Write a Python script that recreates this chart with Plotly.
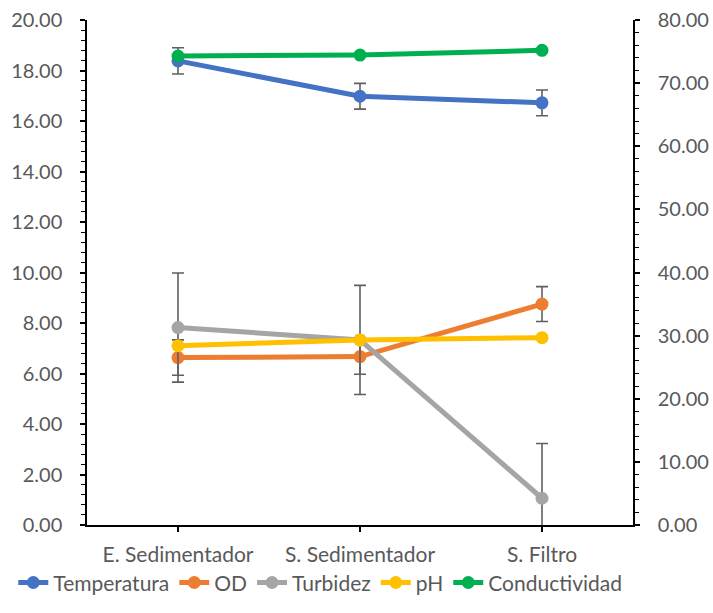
import plotly.graph_objects as go

categories = ["E. Sedimentador", "S. Sedimentador", "S. Filtro"]

temperatura = [18.38, 16.98, 16.72]
temperatura_err = [0.52, 0.51, 0.51]
od = [6.63, 6.67, 8.75]
od_err = [0.70, 0.70, 0.69]
turbidez = [7.82, 7.33, 1.06]
turbidez_err = [2.16, 2.16, 2.17]
ph = [7.10, 7.33, 7.42]
conductividad = [74.3, 74.45, 75.2]

left_ticks = [0, 2, 4, 6, 8, 10, 12, 14, 16, 18, 20]
right_ticks = [0, 10, 20, 30, 40, 50, 60, 70, 80]

FONT = "Lato, 'Noto Sans', sans-serif"
GREY = "#595959"
ERR = "#5f5f5f"

def err(vals):
    return dict(type="data", array=vals, visible=True, color=ERR, thickness=1.6, width=6)

fig = go.Figure()
series = [
    ("Temperatura", temperatura, temperatura_err, "#4472C4", "y"),
    ("OD", od, od_err, "#ED7D31", "y"),
    ("Turbidez", turbidez, turbidez_err, "#A5A5A5", "y"),
    ("pH", ph, None, "#FFC000", "y"),
    ("Conductividad", conductividad, None, "#00B050", "y2"),
]
for name, vals, e, color, ax in series:
    fig.add_trace(go.Scatter(
        x=categories, y=vals, name=name, mode="lines+markers",
        line=dict(color=color, width=5),
        marker=dict(color=color, size=13),
        error_y=err(e) if e else None,
        yaxis=ax,
    ))

fig.update_layout(
    width=713, height=613,
    margin=dict(l=87, r=80, t=20, b=88, autoexpand=False),
    paper_bgcolor="white", plot_bgcolor="white",
    font=dict(family=FONT, size=20, color=GREY),
    showlegend=True,
    legend=dict(orientation="h", x=-0.135, xanchor="left", y=-0.074, yanchor="top",
                font=dict(size=21, color=GREY), tracegroupgap=0, itemwidth=30,
                bgcolor="rgba(0,0,0,0)"),
    xaxis=dict(
        type="category", range=[-0.5, 2.5],
        showline=True, linecolor="black", linewidth=1.5,
        ticks="outside", ticklen=5, tickcolor="black", tickwidth=1.5,
        showgrid=False, zeroline=False,
        tickfont=dict(size=21, color=GREY), ticklabelstandoff=5,
    ),
    yaxis=dict(
        range=[0, 20], tickvals=left_ticks, tickformat=".2f",
        showline=True, linecolor="black", linewidth=1.5,
        ticks="outside", ticklen=5, tickcolor="black", tickwidth=1.5,
        minor=dict(ticks="outside", dtick=0.4, ticklen=4, tickcolor="black", tickwidth=1.2),
        showgrid=False, zeroline=False,
        tickfont=dict(size=20, color=GREY), ticklabelstandoff=14,
    ),
    yaxis2=dict(
        range=[0, 80], tickvals=right_ticks, tickformat=".2f",
        overlaying="y", side="right",
        showline=True, linecolor="black", linewidth=1.5,
        ticks="outside", ticklen=5, tickcolor="black", tickwidth=1.5,
        minor=dict(ticks="outside", dtick=2, ticklen=4, tickcolor="black", tickwidth=1.2),
        showgrid=False, zeroline=False,
        tickfont=dict(size=20, color=GREY), ticklabelstandoff=14,
    ),
)

fig.write_html("out.html")
